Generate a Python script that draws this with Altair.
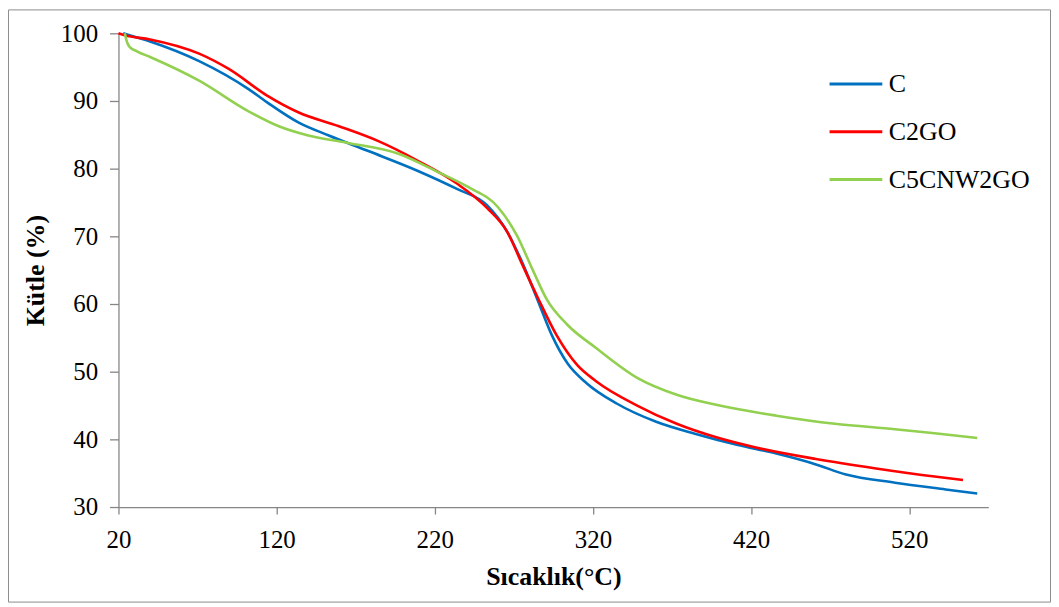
import altair as alt
import pandas as pd

# Series data (temperature °C, mass %)
c_temp = [23, 26, 40, 71, 102, 114, 134, 153, 178, 209, 234, 253, 266, 275, 285, 294, 304, 316, 335, 360, 385, 411, 436, 461, 480, 511, 543, 563]
c_mass = [100, 99.8, 98.8, 95.9, 91.8, 89.8, 86.8, 84.9, 82.6, 79.7, 77.0, 74.6, 70.6, 66.3, 60.6, 55.4, 51.2, 48.3, 45.3, 42.6, 40.8, 39.2, 37.9, 36.3, 34.8, 33.6, 32.6, 32.0]

c2go_temp = [20, 24, 40, 71, 90, 114, 134, 159, 184, 209, 234, 253, 266, 275, 285, 297, 310, 322, 348, 373, 398, 423, 461, 499, 536, 554]
c2go_mass = [100, 99.7, 99.1, 97.0, 94.7, 90.8, 88.3, 86.3, 84.1, 81.2, 77.8, 74.2, 70.6, 66.0, 61.0, 55.4, 51.0, 48.6, 45.0, 42.3, 40.3, 38.8, 37.1, 35.7, 34.5, 34.0]

c5_temp = [24, 25, 27, 32, 40, 71, 102, 121, 140, 165, 197, 222, 241, 260, 272, 282, 291, 304, 322, 348, 373, 398, 436, 473, 511, 536, 563]
c5_mass = [100, 99, 98, 97.3, 96.5, 93.0, 88.5, 86.3, 84.9, 83.8, 82.2, 79.5, 77.3, 74.3, 70.1, 65.0, 60.6, 56.9, 53.5, 49.1, 46.6, 45.1, 43.5, 42.3, 41.5, 40.9, 40.2]

series_names = ["C", "C2GO", "C5CNW2GO"]
series_colors = ["#0070C0", "#FF0000", "#92D050"]
x_ticks = [20, 120, 220, 320, 420, 520]
y_ticks = [30, 40, 50, 60, 70, 80, 90, 100]

rows = []
for name, ts, ms in zip(series_names, [c_temp, c2go_temp, c5_temp], [c_mass, c2go_mass, c5_mass]):
    for i, (t, m) in enumerate(zip(ts, ms)):
        rows.append({"series": name, "temp": t, "mass": m, "order": i})
df = pd.DataFrame(rows)

FONT = "Liberation Serif"
W, H = 874, 476
PL, PT, PR, PB = 111, 24, 63, 96

lines = alt.Chart(df).mark_line(interpolate="monotone", strokeWidth=2.6).encode(
    x=alt.X("temp:Q", scale=alt.Scale(domain=[20, 570], nice=False, zero=False),
            axis=alt.Axis(title="Sıcaklık(°C)", values=x_ticks, grid=False, labelFlush=False,
                          tickSize=7, labelPadding=14, titlePadding=11)),
    y=alt.Y("mass:Q", scale=alt.Scale(domain=[30, 100], nice=False, zero=False),
            axis=alt.Axis(title="Kütle (%)", values=y_ticks, grid=False, labelFlush=False,
                          tickSize=9, labelPadding=12, titlePadding=12)),
    color=alt.Color("series:N", scale=alt.Scale(domain=series_names, range=series_colors),
                    legend=alt.Legend(title=None, orient="none", legendX=713, legendY=23,
                                      symbolType="stroke", symbolSize=2809, symbolStrokeWidth=3,
                                      labelFont=FONT, labelFontSize=26, labelColor="black",
                                      labelOffset=5, rowPadding=7, padding=0)),
    order="order:Q",
)

frame = alt.Chart(pd.DataFrame({"a": [0]})).mark_rect(
    fill=None, stroke="#8c8c8c", strokeWidth=1, clip=False
).encode(
    x=alt.value(-PL + 0.5), x2=alt.value(W + PR - 0.5),
    y=alt.value(-PT + 0.5), y2=alt.value(H + PB - 0.5),
)

chart = alt.layer(frame, lines).properties(
    width=W, height=H,
    autosize=alt.AutoSizeParams(type="none"),
    padding={"left": PL, "top": PT, "right": PR, "bottom": PB},
).configure_view(stroke=None).configure_axis(
    domainColor="#868686", tickColor="#868686", domainWidth=1.3, tickWidth=1.3,
    labelFont=FONT, labelFontSize=25, labelColor="black",
    titleFont=FONT, titleFontSize=26, titleFontWeight="bold", titleColor="black",
)

chart.save("out.html", embed_options={"renderer": "svg", "actions": False})
